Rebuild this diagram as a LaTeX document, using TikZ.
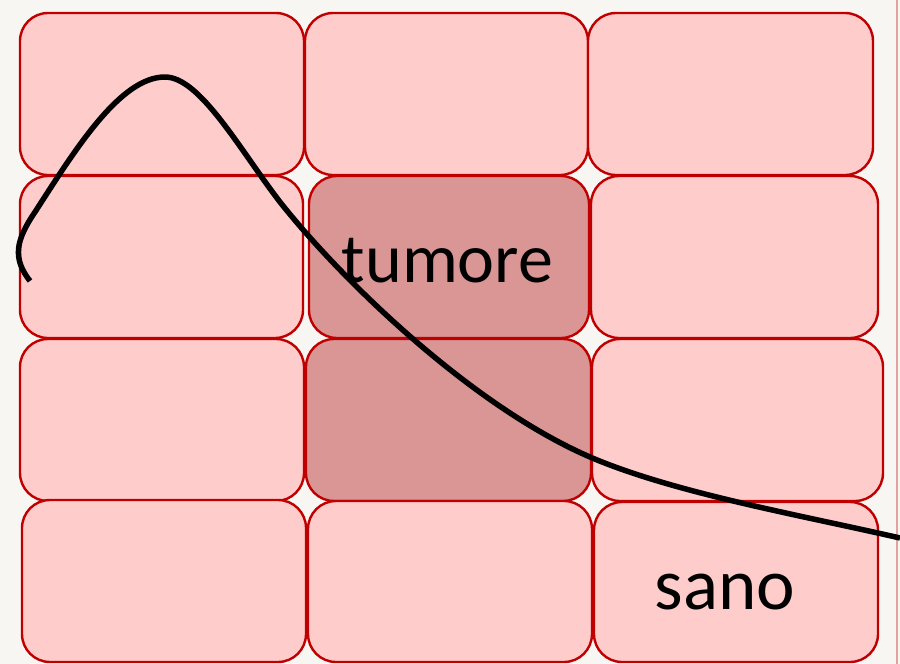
\documentclass[tikz,border=0pt]{standalone}
\usepackage{fontspec}
\setmainfont{Carlito}
\definecolor{paper}{HTML}{F7F6F2}
\definecolor{cellfill}{HTML}{FFCCCC}
\definecolor{hotfill}{HTML}{D99694}
\definecolor{cellline}{HTML}{C00000}
\definecolor{edgeline}{HTML}{E0A39F}
\tikzset{
  cell/.style={draw=cellline, fill=cellfill, line width=2.4pt, rounded corners=28pt,
    rectangle, inner sep=0pt, outer sep=0pt, minimum height=162pt},
  hotcell/.style={cell, fill=hotfill},
  label/.style={text=black, anchor=base, inner sep=0pt},
  profile/.style={line width=5.5pt, black, line cap=butt, line join=round}
}
\begin{document}
\begin{tikzpicture}[x=1pt, y=-1pt]
  % page and right-hand rule
  \fill[paper] (0,0) rectangle (900,664);
  \useasboundingbox (0,0) rectangle (900,664);
  \coordinate (ruletop) at (897,0);
  \coordinate (rulebot) at (897,664);
  \draw[edgeline, line width=2pt] (ruletop) -- (rulebot);

  % grid of tissue cells
  \node[cell, minimum width=284pt] (a1) at (162,94) {};
  \node[cell, minimum width=283pt] (a2) at (446.5,94) {};
  \node[cell, minimum width=285pt] (a3) at (730.5,94) {};

  \node[cell, minimum width=283pt] (b1) at (161.5,257) {};
  \node[hotcell, minimum width=280pt] (b2) at (449,257) {};
  \node[cell, minimum width=287pt] (b3) at (734.5,257) {};

  \node[cell, minimum width=284pt] (c1) at (162,420) {};
  \node[hotcell, minimum width=285pt] (c2) at (448.5,420) {};
  \node[cell, minimum width=291pt] (c3) at (737.5,420) {};

  \node[cell, minimum width=284pt] (d1) at (164,581) {};
  \node[cell, minimum width=284pt, minimum height=161pt] (d2) at (450,581.5) {};
  \node[cell, minimum width=284pt, minimum height=160pt] (d3) at (736,582) {};

  % dose profile
  \coordinate (pstart) at (30,281);
  \coordinate (pend) at (900,538);
  \draw[profile] (pstart)
    .. controls (12,258) and (16,240) .. (35,212)
    .. controls (75,150) and (120,77) .. (165,77)
    .. controls (200,77) and (240,150) .. (280,202)
    .. controls (340,278) and (470,405) .. (590,457)
    .. controls (674,493) and (800,515) .. (pend);

  % labels
  \node[label, font=\fontsize{70}{84}\selectfont] (tumour) at (447.5,282) {tumore};
  \node[label, font=\fontsize{73}{88}\selectfont] (healthy) at (725,609) {sano};
\end{tikzpicture}
\end{document}
